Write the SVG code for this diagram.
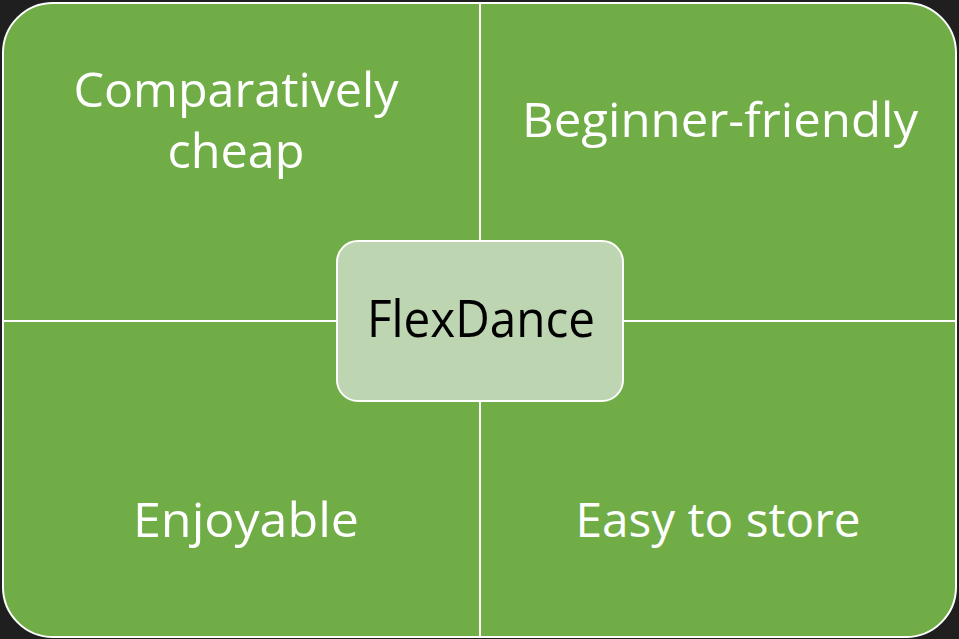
<svg xmlns="http://www.w3.org/2000/svg" width="959" height="639" viewBox="0 0 959 639">
  <style>
    .quad { fill: #70ad47; stroke: #ffffff; stroke-width: 2; }
    .hub { fill: #bdd5b0; stroke: #ffffff; stroke-width: 2; }
    .label { font-family: "Open Sans", "Liberation Sans", sans-serif; font-size: 48px; fill: #ffffff; text-anchor: middle; }
    .hub-label { font-family: "Open Sans", "Liberation Sans", sans-serif; font-size: 52px; fill: #000000; text-anchor: middle; }
  </style>
  <rect width="959" height="639" fill="#1f1f1f"/>

  <!-- quadrants, each with one rounded outer corner -->
  <g id="quad-top-left">
    <path class="quad" d="M3,53 A50,50 0 0 1 53,3 L480,3 L480,321 L3,321 Z"/>
    <text class="label" x="236" y="107" textLength="325" lengthAdjust="spacingAndGlyphs">Comparatively</text>
    <text class="label" x="236" y="168" textLength="137" lengthAdjust="spacingAndGlyphs">cheap</text>
  </g>
  <g id="quad-top-right">
    <path class="quad" d="M480,3 L906,3 A50,50 0 0 1 956,53 L956,321 L480,321 Z"/>
    <text class="label" x="720" y="137" textLength="396" lengthAdjust="spacingAndGlyphs">Beginner-friendly</text>
  </g>
  <g id="quad-bottom-left">
    <path class="quad" d="M3,321 L480,321 L480,637 L53,637 A50,50 0 0 1 3,587 Z"/>
    <text class="label" x="246" y="537" textLength="226" lengthAdjust="spacingAndGlyphs">Enjoyable</text>
  </g>
  <g id="quad-bottom-right">
    <path class="quad" d="M480,321 L956,321 L956,587 A50,50 0 0 1 906,637 L480,637 Z"/>
    <text class="label" x="718" y="537" textLength="285" lengthAdjust="spacingAndGlyphs">Easy to store</text>
  </g>

  <!-- central hub -->
  <g id="hub">
    <rect class="hub" x="337" y="241" width="286" height="160" rx="21" ry="21"/>
    <text class="hub-label" x="481" y="337" textLength="228" lengthAdjust="spacingAndGlyphs">FlexDance</text>
  </g>
</svg>
